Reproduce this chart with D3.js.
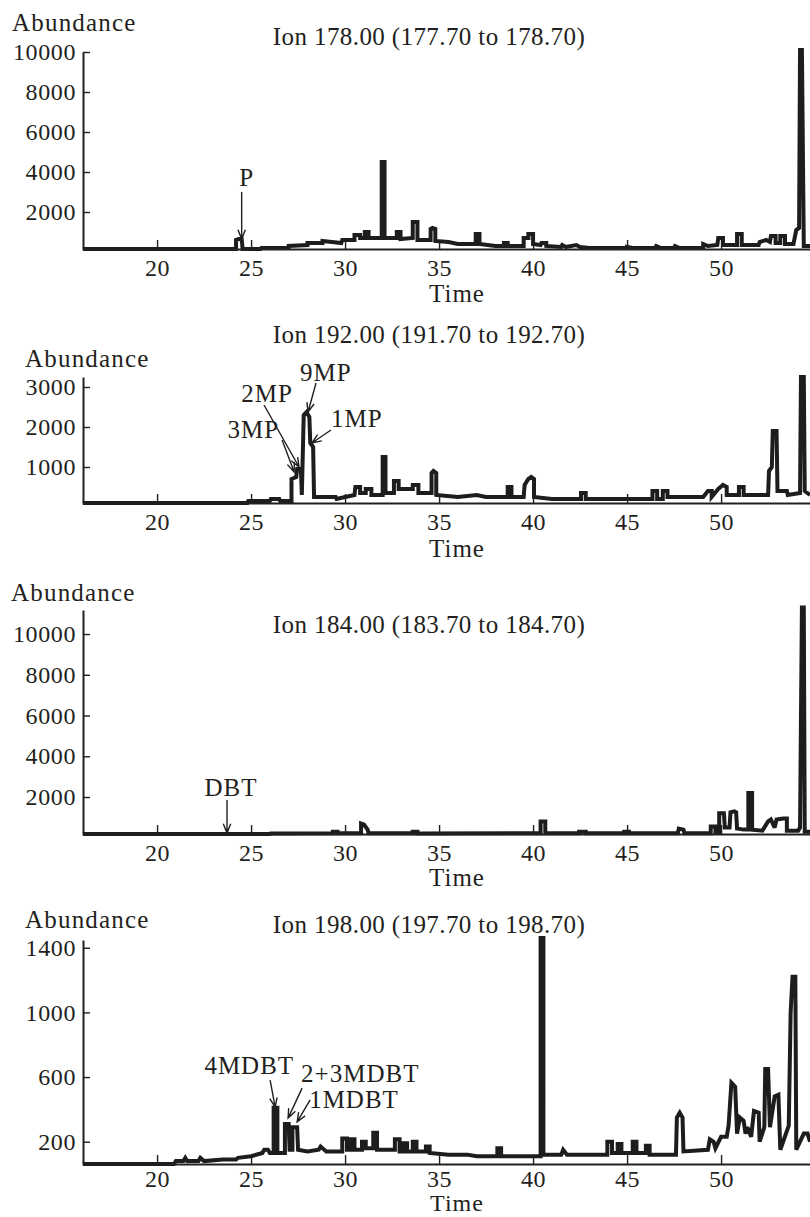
<!DOCTYPE html>
<html>
<head>
<meta charset="utf-8">
<script src="https://cdn.jsdelivr.net/npm/d3@7"></script>
<style>
  body { margin: 0; background: #fff; }
  svg text { font-family: "Liberation Serif", "Times New Roman", serif; fill: #231f20; }
</style>
</head>
<body>
<svg class="chartSvg" width="810" height="1217"></svg>
<script>
// Ion 178 chromatogram (time in min, abundance)
var time178 = [16.05, 24.2, 24.2, 24.35, 24.5, 24.55, 25.5, 25.55, 27.0, 27.0, 28.0, 28.0, 28.8, 28.8, 29.3, 29.8, 29.85, 30.5, 30.5, 30.8,
  30.8, 31.05, 31.05, 31.25, 31.25, 31.95, 31.95, 32.1, 32.1, 32.75, 32.75, 32.95, 32.95, 33.6, 33.6, 33.85, 33.85, 34.55, 34.55, 34.65,
  34.8, 34.8, 35.5, 36.0, 36.95, 36.95, 37.15, 37.15, 38.0, 38.45, 38.45, 38.65, 38.65, 39.5, 39.5, 39.75, 39.75, 40.0, 40.0, 40.4,
  40.45, 40.7, 40.7, 41.5, 41.55, 41.75, 42.3, 42.5, 43.0, 45.0, 45.0, 45.3, 46.5, 46.55, 46.8, 47.5, 47.55, 47.8, 49.05, 49.05,
  49.3, 49.8, 49.85, 50.1, 50.1, 50.85, 50.85, 51.1, 51.1, 52.0, 52.05, 52.4, 52.6, 52.65, 52.9, 52.9, 53.15, 53.15, 53.4, 53.4,
  53.85, 54.0, 54.15, 54.2, 54.3, 54.4, 54.73];
var abund178 = [150, 150, 600, 650, 650, 150, 150, 200, 200, 300, 350, 450, 450, 550, 500, 450, 600, 600, 850, 850,
  700, 700, 1000, 1000, 700, 700, 4500, 4500, 700, 700, 1000, 1000, 650, 700, 1500, 1500, 600, 600, 1150, 1200,
  1150, 550, 500, 400, 400, 900, 900, 400, 300, 300, 450, 450, 300, 300, 700, 700, 900, 900, 400, 350,
  450, 450, 300, 250, 350, 250, 350, 250, 200, 200, 250, 200, 200, 300, 200, 200, 300, 200, 200, 400,
  300, 350, 700, 700, 350, 350, 900, 900, 350, 350, 500, 600, 500, 800, 800, 450, 450, 800, 800, 400,
  400, 1100, 1200, 10100, 10100, 300, 300];

// Ion 192
var time192 = [16.05, 24.8, 24.85, 26.0, 26.05, 26.5, 26.55, 27.15, 27.15, 27.4, 27.45, 27.65, 27.7, 27.8, 27.95, 28.1, 28.15, 28.3, 28.35, 29.5,
  29.55, 30.0, 30.5, 30.55, 30.8, 30.8, 31.1, 31.1, 31.4, 31.4, 32.0, 32.0, 32.15, 32.15, 32.6, 32.6, 32.85, 32.85, 33.6, 33.6,
  33.9, 33.9, 34.6, 34.6, 34.7, 34.85, 34.85, 36.0, 37.0, 37.5, 38.65, 38.65, 38.85, 38.85, 39.5, 39.55, 39.75, 39.9, 40.05, 40.05,
  41.0, 42.55, 42.55, 42.8, 42.8, 46.35, 46.35, 46.6, 46.6, 46.9, 46.9, 47.15, 47.15, 49.05, 49.3, 49.5, 49.5, 49.85, 50.1, 50.3,
  50.3, 50.95, 50.95, 51.2, 51.2, 52.5, 52.55, 52.7, 52.75, 52.95, 53.0, 53.5, 53.55, 54.2, 54.25, 54.4, 54.45, 54.73];
var abund192 = [100, 100, 150, 150, 200, 200, 150, 150, 700, 750, 950, 950, 300, 2300, 2375, 2250, 1600, 1500, 250, 250,
  200, 250, 300, 500, 500, 350, 350, 450, 450, 300, 300, 1250, 1250, 350, 350, 650, 650, 450, 450, 550,
  550, 350, 350, 850, 900, 850, 300, 250, 300, 250, 250, 500, 500, 250, 250, 550, 700, 750, 700, 250,
  200, 200, 350, 350, 200, 200, 400, 400, 200, 200, 400, 400, 250, 250, 400, 400, 250, 450, 550, 500,
  300, 300, 500, 500, 300, 300, 900, 1000, 1900, 1900, 400, 400, 300, 350, 3250, 3250, 400, 300];

// Ion 184
var time184 = [16.05, 26.0, 26.05, 29.35, 29.35, 29.6, 29.6, 30.85, 30.85, 31.0, 31.2, 31.25, 33.6, 33.6, 33.85, 33.85, 40.4, 40.4, 40.65, 40.65,
  42.45, 42.45, 42.8, 42.8, 44.85, 44.85, 45.1, 45.1, 47.7, 47.75, 48.0, 48.05, 49.45, 49.45, 49.7, 49.7, 49.9, 49.9, 50.15, 50.2,
  50.45, 50.5, 50.7, 50.8, 50.85, 51.2, 51.45, 51.45, 51.65, 51.65, 52.2, 52.5, 52.65, 52.85, 52.95, 53.3, 53.5, 53.5, 54.1, 54.2,
  54.3, 54.4, 54.45, 54.73];
var abund184 = [190, 190, 210, 220, 300, 300, 220, 220, 700, 650, 400, 220, 220, 300, 300, 210, 220, 800, 800, 220,
  220, 300, 300, 220, 220, 300, 300, 220, 220, 450, 400, 220, 220, 550, 550, 250, 250, 1200, 1200, 500,
  500, 1250, 1300, 1250, 450, 400, 400, 2200, 2200, 400, 350, 800, 900, 500, 900, 950, 950, 350, 350, 500,
  11300, 11300, 300, 300];

// Ion 198
var time198 = [16.05, 20.9, 21.0, 21.4, 21.5, 21.6, 22.2, 22.3, 22.5, 23.5, 24.2, 24.3, 25.0, 25.6, 25.7, 25.9, 26.0, 26.2, 26.2, 26.4,
  26.4, 26.8, 26.8, 27.0, 27.05, 27.2, 27.2, 27.45, 27.5, 28.0, 28.6, 28.7, 29.0, 29.85, 29.85, 30.1, 30.1, 30.3, 30.3, 30.5,
  30.5, 30.9, 30.9, 31.1, 31.1, 31.5, 31.5, 31.7, 31.7, 32.65, 32.65, 32.9, 32.9, 33.1, 33.1, 33.3, 33.3, 33.6, 33.6, 33.8,
  33.8, 34.3, 34.3, 34.5, 34.5, 35.5, 36.5, 37.0, 38.1, 38.1, 38.3, 38.3, 40.4, 40.4, 40.55, 40.55, 41.5, 41.6, 41.8, 43.95,
  43.95, 44.2, 44.2, 44.5, 44.5, 44.7, 44.7, 45.3, 45.3, 45.5, 45.5, 46.0, 46.0, 46.2, 46.2, 47.6, 47.65, 47.8, 47.95, 48.0,
  49.3, 49.4, 49.6, 49.7, 50.0, 50.3, 50.4, 50.55, 50.75, 50.85, 51.0, 51.2, 51.3, 51.4, 51.6, 51.75, 52.0, 52.05, 52.3, 52.35,
  52.5, 52.6, 52.85, 53.05, 53.15, 53.6, 53.7, 53.8, 53.95, 54.0, 54.4, 54.6, 54.73];
var abund198 = [62, 62, 80, 80, 100, 80, 80, 100, 80, 90, 90, 100, 110, 130, 150, 150, 130, 130, 410, 410,
  130, 130, 310, 310, 150, 150, 290, 290, 150, 140, 150, 170, 140, 140, 220, 220, 150, 150, 215, 215,
  150, 150, 200, 200, 160, 160, 255, 255, 150, 150, 215, 215, 140, 140, 190, 190, 140, 140, 200, 200,
  140, 140, 170, 170, 130, 120, 120, 110, 110, 160, 160, 110, 110, 1460, 1460, 120, 120, 150, 120, 120,
  200, 200, 130, 130, 185, 185, 130, 130, 200, 200, 130, 130, 175, 175, 120, 120, 350, 380, 350, 140,
  150, 215, 200, 160, 230, 230, 300, 565, 540, 250, 350, 330, 250, 290, 230, 390, 380, 200, 290, 650,
  650, 290, 480, 490, 150, 300, 1000, 1220, 1220, 150, 250, 250, 200];

// time axis ticks
var timeTicks = [20, 25, 30, 35, 40, 45, 50];

// peak labels: name, time of the marked peak, abundance at the arrow tip
var names178 = ["P"];
var times178 = [24.5];
var heights178 = [650];

var names192 = ["3MP", "2MP", "9MP", "1MP"];
var times192 = [27.29, 27.55, 28.03, 28.24];
var heights192 = [875, 1000, 2375, 1600];

var names184 = ["DBT"];
var times184 = [23.72];
var heights184 = [233];

var names198 = ["4MDBT", "2+3MDBT", "1MDBT"];
var times198 = [26.28, 26.97, 27.45];
var heights198 = [414, 346, 322];

var svg = d3.select(".chartSvg");

var x = d3.scaleLinear().domain([16.06, 54.73]).range([83, 810]);

var line = d3.line()
    .x(function(d) { return x(d.t); })
    .y(function(d) { return d.y; });

// arrow tail offset (px from tip), label anchor + offset
var panels = [
  { ion: "Ion 178.00 (177.70 to 178.70)", time: time178, abund: abund178,
    names: names178, peaks: times178, heights: heights178,
    top: 52, bottom: 249, vBase: 150, vTop: 10000, ticks: [2000, 4000, 6000, 8000, 10000],
    titleY: 45, abX: 12, abY: 31, timeY: 302, pad: 10, timeSize: 25,
    arrows: [ {dx: 0, dy: -47, lx: 5, ly: -53, anchor: "middle"} ] },
  { ion: "Ion 192.00 (191.70 to 192.70)", time: time192, abund: abund192,
    names: names192, peaks: times192, heights: heights192,
    top: 377, bottom: 503, vBase: 100, vTop: 3250, ticks: [1000, 2000, 3000],
    titleY: 343, abX: 25, abY: 367, timeY: 557, pad: 10, timeSize: 25,
    arrows: [ {dx: -12, dy: -32, lx: -15, ly: -34, anchor: "end"},
              {dx: -35, dy: -62, lx: -6, ly: -65, anchor: "end"},
              {dx: 8, dy: -29, lx: -8, ly: -31, anchor: "start"},
              {dx: 19, dy: -13, lx: 19, ly: -16, anchor: "start"} ] },
  { ion: "Ion 184.00 (183.70 to 184.70)", time: time184, abund: abund184,
    names: names184, peaks: times184, heights: heights184,
    top: 610, bottom: 834, vBase: 185, vTop: 11180, ticks: [2000, 4000, 6000, 8000, 10000],
    titleY: 633, abX: 11, abY: 601, timeY: 886, pad: 10, timeSize: 25,
    arrows: [ {dx: 0, dy: -33, lx: 4, ly: -37, anchor: "middle"} ] },
  { ion: "Ion 198.00 (197.70 to 198.70)", time: time198, abund: abund198,
    names: names198, peaks: times198, heights: heights198,
    top: 940, bottom: 1164, vBase: 62, vTop: 1448, ticks: [200, 600, 1000, 1400],
    titleY: 933, abX: 25, abY: 928, timeY: 1211, pad: 6, timeSize: 24,
    arrows: [ {dx: -5, dy: -27, lx: 19, ly: -33, anchor: "end"},
              {dx: 14, dy: -30, lx: 13, ly: -36, anchor: "start"},
              {dx: 13, dy: -22, lx: 12, ly: -14, anchor: "start"} ] }
];

panels.forEach(drawPanel);

function drawPanel(p) {
    var y = d3.scaleLinear().domain([p.vBase, p.vTop]).range([p.bottom, p.top]);
    var g = svg.append("g");

    var pts = p.time.map(function(t, i) { return { t: t, y: y(p.abund[i]) }; });

    g.append("path")
        .attr("d", line(pts))
        .attr("fill", "none")
        .attr("stroke", "#1d1d1d")
        .attr("stroke-width", 4)
        .attr("stroke-linejoin", "miter")
        .attr("stroke-miterlimit", 3);

    // x axis, ticks pointing up
    var xg = g.append("g")
        .attr("transform", "translate(0," + p.bottom + ")")
        .call(d3.axisBottom(x).tickValues(timeTicks).tickSizeInner(-9).tickSizeOuter(0).tickPadding(p.pad));
    xg.select(".domain").attr("stroke", "#231f20").attr("stroke-width", 2.2);
    xg.selectAll(".tick line").attr("stroke", "#231f20").attr("stroke-width", 1.4);
    xg.selectAll("text")
        .style("font-family", "'Liberation Serif', serif")
        .style("font-size", "24px")
        .style("letter-spacing", "0.6px")
        .attr("fill", "#231f20");

    // y axis, ticks pointing right
    var yg = g.append("g")
        .attr("transform", "translate(" + x.range()[0] + ",0)")
        .call(d3.axisLeft(y).tickValues(p.ticks).tickSizeInner(-7).tickSizeOuter(0).tickPadding(7)
              .tickFormat(d3.format("d")));
    yg.select(".domain").attr("stroke", "#231f20").attr("stroke-width", 2);
    yg.selectAll(".tick line").attr("stroke", "#231f20").attr("stroke-width", 1.4);
    yg.selectAll("text")
        .style("font-family", "'Liberation Serif', serif")
        .style("font-size", "24px")
        .style("letter-spacing", "0.6px")
        .attr("fill", "#231f20");

    g.append("text")
        .attr("x", 429).attr("y", p.titleY)
        .attr("text-anchor", "middle")
        .style("font-size", "25px")
        .style("letter-spacing", "0.4px")
        .text(p.ion);

    g.append("text")
        .attr("x", p.abX).attr("y", p.abY)
        .style("font-size", "25px")
        .style("letter-spacing", "1.2px")
        .text("Abundance");

    g.append("text")
        .attr("x", 457).attr("y", p.timeY)
        .attr("text-anchor", "middle")
        .style("font-size", p.timeSize + "px")
        .style("letter-spacing", "1px")
        .text("Time");

    // peak arrows
    p.names.forEach(function(name, i) {
        var a = p.arrows[i];
        var tx = x(p.peaks[i]), ty = y(p.heights[i]);
        var sx = tx + a.dx, sy = ty + a.dy;
        var ang = Math.atan2(ty - sy, tx - sx);
        var hl = 10, hw = 0.38;
        g.append("path")
            .attr("d", "M" + sx + "," + sy + "L" + tx + "," + ty +
                  "M" + (tx - hl * Math.cos(ang - hw)) + "," + (ty - hl * Math.sin(ang - hw)) +
                  "L" + tx + "," + ty +
                  "L" + (tx - hl * Math.cos(ang + hw)) + "," + (ty - hl * Math.sin(ang + hw)))
            .attr("fill", "none")
            .attr("stroke", "#231f20")
            .attr("stroke-width", 1.4);
        g.append("text")
            .attr("x", tx + a.lx).attr("y", ty + a.ly)
            .attr("text-anchor", a.anchor)
            .style("font-size", "25px")
            .style("letter-spacing", "1px")
            .text(name);
    });
}
</script>
</body>
</html>
